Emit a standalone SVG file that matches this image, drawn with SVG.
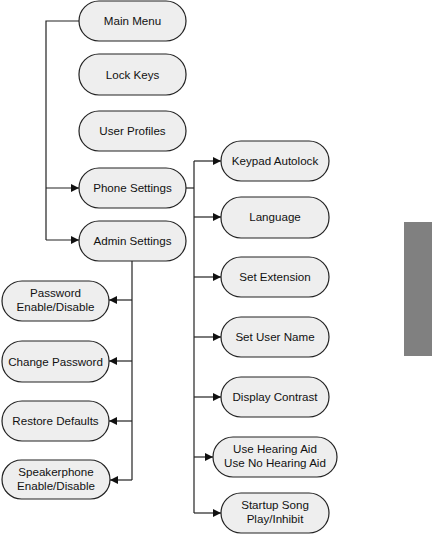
<svg xmlns="http://www.w3.org/2000/svg" width="432" height="534" viewBox="0 0 432 534">
<style>
.n{fill:#eeeeee;stroke:#222;stroke-width:1.2}
.t{font-family:"Liberation Sans",Arial,sans-serif;font-size:11.6px;fill:#111;text-anchor:middle}
.c{fill:none;stroke:#222;stroke-width:1.2}
</style>
<defs>
<marker id="a" markerUnits="userSpaceOnUse" markerWidth="9" markerHeight="9" refX="8" refY="4" orient="auto">
<path d="M0,0 L8,4 L0,8 Z" fill="#111"/>
</marker>
</defs>
<rect x="404" y="222" width="28" height="134" fill="#808080"/>
<g id="connectors">
<path class="c" d="M79,21 H46 V240"/>
<path class="c" d="M46,188 H79" marker-end="url(#a)"/>
<path class="c" d="M46,240 H79" marker-end="url(#a)"/>
<path class="c" d="M186,188 H194"/>
<path class="c" d="M194,161 V513"/>
<path class="c" d="M194,161 H221" marker-end="url(#a)"/>
<path class="c" d="M194,217 H221" marker-end="url(#a)"/>
<path class="c" d="M194,277 H221" marker-end="url(#a)"/>
<path class="c" d="M194,337 H221" marker-end="url(#a)"/>
<path class="c" d="M194,397 H221" marker-end="url(#a)"/>
<path class="c" d="M194,457 H213" marker-end="url(#a)"/>
<path class="c" d="M194,513 H221" marker-end="url(#a)"/>
<path class="c" d="M132,261 V480"/>
<path class="c" d="M132,300 H109" marker-end="url(#a)"/>
<path class="c" d="M132,361 H109" marker-end="url(#a)"/>
<path class="c" d="M132,421 H109" marker-end="url(#a)"/>
<path class="c" d="M132,480 H110" marker-end="url(#a)"/>
</g>
<g id="main-menu"><rect class="n" x="79" y="1" width="107" height="40" rx="20"/><text class="t" x="132.5" y="25">Main Menu</text></g>
<g id="lock-keys"><rect class="n" x="79" y="54" width="107" height="41" rx="20"/><text class="t" x="132.5" y="78.5">Lock Keys</text></g>
<g id="user-profiles"><rect class="n" x="79" y="111" width="107" height="40" rx="20"/><text class="t" x="132.5" y="135">User Profiles</text></g>
<g id="phone-settings"><rect class="n" x="79" y="168" width="107" height="40" rx="20"/><text class="t" x="132.5" y="192">Phone Settings</text></g>
<g id="admin-settings"><rect class="n" x="79" y="221" width="107" height="40" rx="20"/><text class="t" x="132.5" y="245">Admin Settings</text></g>
<g id="keypad-autolock"><rect class="n" x="221" y="141" width="108" height="40" rx="20"/><text class="t" x="275" y="165">Keypad Autolock</text></g>
<g id="language"><rect class="n" x="221" y="197" width="108" height="41" rx="20"/><text class="t" x="275" y="221">Language</text></g>
<g id="set-extension"><rect class="n" x="221" y="257" width="108" height="40" rx="20"/><text class="t" x="275" y="281">Set Extension</text></g>
<g id="set-user-name"><rect class="n" x="221" y="317" width="108" height="40" rx="20"/><text class="t" x="275" y="341">Set User Name</text></g>
<g id="display-contrast"><rect class="n" x="221" y="377" width="108" height="40" rx="20"/><text class="t" x="275" y="401">Display Contrast</text></g>
<g id="hearing-aid"><rect class="n" x="213" y="437" width="124" height="40" rx="20"/><text class="t" x="275" y="453">Use Hearing Aid</text><text class="t" x="275" y="467">Use No Hearing Aid</text></g>
<g id="startup-song"><rect class="n" x="221" y="493" width="108" height="40" rx="20"/><text class="t" x="275" y="509">Startup Song</text><text class="t" x="275" y="523">Play/Inhibit</text></g>
<g id="password"><rect class="n" x="2" y="281" width="107" height="40" rx="20"/><text class="t" x="55.5" y="297">Password</text><text class="t" x="55.5" y="311">Enable/Disable</text></g>
<g id="change-password"><rect class="n" x="2" y="341" width="107" height="41" rx="20"/><text class="t" x="55.5" y="365.5">Change Password</text></g>
<g id="restore-defaults"><rect class="n" x="2" y="401" width="107" height="40" rx="20"/><text class="t" x="55.5" y="425">Restore Defaults</text></g>
<g id="speakerphone"><rect class="n" x="2" y="460" width="108" height="39" rx="19.5"/><text class="t" x="56" y="476">Speakerphone</text><text class="t" x="56" y="490">Enable/Disable</text></g>
</svg>
